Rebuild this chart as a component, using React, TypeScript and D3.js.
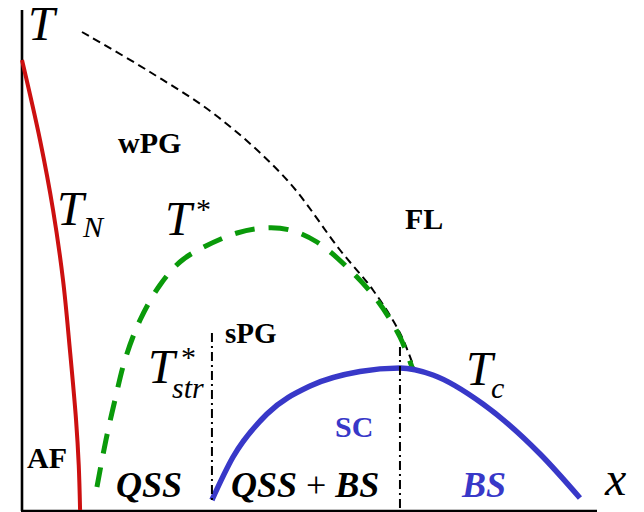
import React from "react";
import * as d3 from "d3";

// Phase diagram: temperature T versus doping x (schematic units)
const W = 644;
const H = 512;

// Néel line T_N
const tnX = [0, 0.0094, 0.0162, 0.0214, 0.025, 0.0282, 0.0296, 0.0303];
const tnT = [0.9, 0.74, 0.6, 0.46, 0.32, 0.18, 0.09, 0];

// Fluctuation-line crossover (black dashed)
const flX = [0.0313, 0.0668, 0.1023, 0.1383, 0.1659, 0.1831, 0.1972, 0.205];
const flT = [0.956, 0.876, 0.786, 0.66, 0.52, 0.44, 0.354, 0.28];

// Pseudogap temperature T*
const tsX = [0.0391, 0.0438, 0.0485, 0.0537, 0.0616, 0.072, 0.0824, 0.0929, 0.1122, 0.1268, 0.1398, 0.1539, 0.1711, 0.1852, 0.1972, 0.204];
const tsT = [0.046, 0.14, 0.22, 0.3, 0.38, 0.45, 0.496, 0.522, 0.554, 0.564, 0.56, 0.536, 0.48, 0.42, 0.346, 0.28];

// Superconducting dome T_c
const tcX = [0.0991, 0.1101, 0.1278, 0.1503, 0.1763, 0.1972, 0.2144, 0.2405, 0.2703, 0.2911];
const tcT = [0.02, 0.106, 0.192, 0.248, 0.277, 0.284, 0.27, 0.212, 0.112, 0.024];

// Vertical dash-dot boundaries: x position, upper and lower T
const boundX = [0.0991, 0.1972];
const boundTop = [0.354, 0.326];
const boundBottom = [0.02, 0];

const xScale = d3.scaleLinear().domain([0, 0.3]).range([22, 597]);
const yScale = d3.scaleLinear().domain([0, 1]).range([510, 10]);

const toPts = (xs: number[], ts: number[]) => xs.map((x, i) => [x, ts[i]] as [number, number]);

const makeLine = (curve: d3.CurveFactory) =>
  d3
    .line<[number, number]>()
    .x((d) => xScale(d[0]))
    .y((d) => yScale(d[1]))
    .curve(curve);

const smooth = makeLine(d3.curveCatmullRom.alpha(0.5));
const dome = makeLine(d3.curveMonotoneX);

const serif = '"Liberation Serif", "Times New Roman", Times, serif';
const BLUE = "#3838c8";
const GREEN = "#0a9a0a";
const RED = "#cc1010";

export default function App() {
  return (
    <svg
      width={W}
      height={H}
      style={{ position: "absolute", left: 0, top: 0, background: "#fff" }}
      fontFamily={serif}
    >
      {/* axes */}
      <line x1={xScale(0)} y1={10} x2={xScale(0)} y2={511} stroke="#000" strokeWidth={2.6} />
      <line x1={xScale(0) - 1} y1={511} x2={xScale(0.3)} y2={511} stroke="#000" strokeWidth={2.6} />

      {/* curves */}
      <path d={smooth(toPts(flX, flT)) ?? ""} fill="none" stroke="#000" strokeWidth={2} strokeDasharray="8,5" />
      <path d={smooth(toPts(tsX, tsT)) ?? ""} fill="none" stroke={GREEN} strokeWidth={5} strokeDasharray="20,14" />
      <path d={smooth(toPts(tnX, tnT)) ?? ""} fill="none" stroke={RED} strokeWidth={4} />
      <path d={dome(toPts(tcX, tcT)) ?? ""} fill="none" stroke={BLUE} strokeWidth={5.5} />

      {boundX.map((bx, i) => (
        <line
          key={i}
          x1={xScale(bx)}
          x2={xScale(bx)}
          y1={yScale(boundTop[i])}
          y2={yScale(boundBottom[i])}
          stroke="#000"
          strokeWidth={2}
          strokeDasharray="9,4,2,4"
        />
      ))}

      {/* axis letters */}
      <text x={28} y={40} fontSize={48} fontStyle="italic">T</text>
      <text x={605} y={495} fontSize={48} fontStyle="italic">x</text>

      {/* temperature labels */}
      <text x={57} y={225} fontSize={48} fontStyle="italic">
        T<tspan x={83} y={237} fontSize={30}>N</tspan>
      </text>
      <text x={165} y={235} fontSize={48} fontStyle="italic">
        T<tspan x={196} y={219} fontSize={30} fontStyle="normal">*</tspan>
      </text>
      <text x={148} y={383} fontSize={48} fontStyle="italic">
        T<tspan x={181} y={367} fontSize={30} fontStyle="normal">*</tspan>
        <tspan x={172} y={398} fontSize={30}>str</tspan>
      </text>
      <text x={466} y={385} fontSize={48} fontStyle="italic">
        T<tspan x={491} y={398} fontSize={30}>c</tspan>
      </text>

      {/* region labels */}
      <text x={118} y={153} fontSize={30} fontWeight="bold">wPG</text>
      <text x={405} y={229} fontSize={30} fontWeight="bold">FL</text>
      <text x={225} y={343} fontSize={29} fontWeight="bold">sPG</text>
      <text x={27} y={468} fontSize={30} fontWeight="bold">AF</text>
      <text x={335} y={437} fontSize={30} fontWeight="bold" fill={BLUE}>SC</text>
      <text x={116} y={497} fontSize={36} fontWeight="bold" fontStyle="italic">QSS</text>
      <text x={231} y={497} fontSize={36} fontWeight="bold" fontStyle="italic">
        QSS<tspan fontWeight="normal" fontStyle="normal"> + </tspan>BS
      </text>
      <text x={462} y={497} fontSize={36} fontWeight="bold" fontStyle="italic" fill={BLUE}>BS</text>
    </svg>
  );
}
